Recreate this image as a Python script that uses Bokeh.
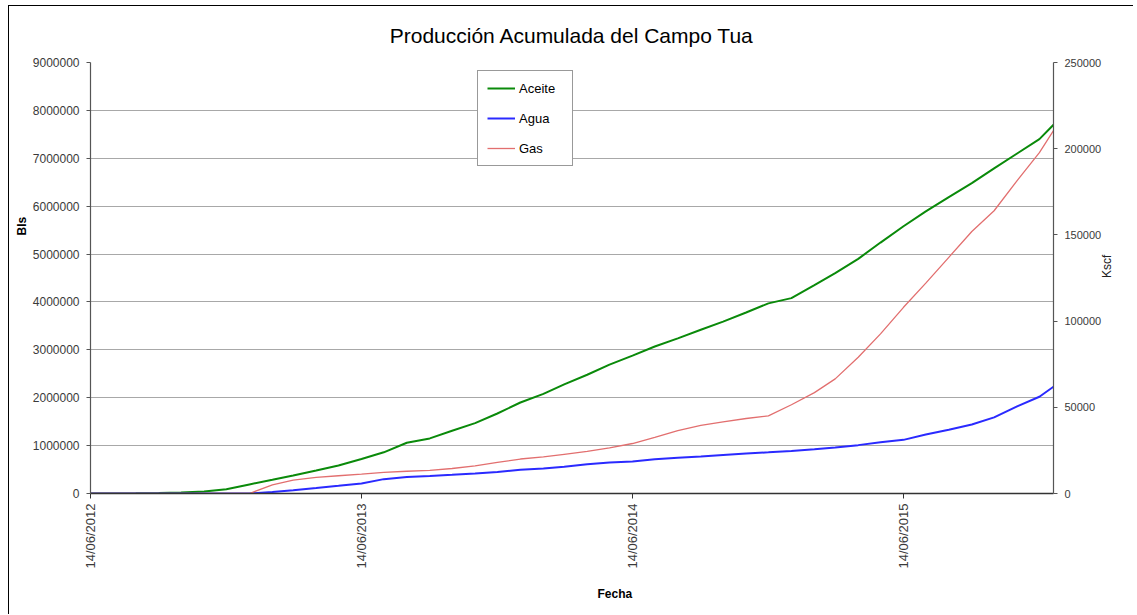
import math
from datetime import datetime
from bokeh.plotting import figure
from bokeh.models import (Range1d, LinearAxis, FixedTicker, DatetimeTickFormatter,
                          NumeralTickFormatter, Legend, LegendItem, Title)
from bokeh.embed import file_html
from bokeh.resources import INLINE

# ---- data ----
fechas = ["2012-06-14", "2012-07-14", "2012-08-14", "2012-09-14", "2012-10-14", "2012-11-14",
          "2012-12-14", "2013-01-14", "2013-02-14", "2013-03-14", "2013-04-14", "2013-05-14",
          "2013-06-14", "2013-07-14", "2013-08-14", "2013-09-14", "2013-10-14", "2013-11-14",
          "2013-12-14", "2014-01-14", "2014-02-14", "2014-03-14", "2014-04-14", "2014-05-14",
          "2014-06-14", "2014-07-14", "2014-08-14", "2014-09-14", "2014-10-14", "2014-11-14",
          "2014-12-14", "2015-01-14", "2015-02-14", "2015-03-14", "2015-04-14", "2015-05-14",
          "2015-06-14", "2015-07-14", "2015-08-14", "2015-09-14", "2015-10-14", "2015-11-14",
          "2015-12-14", "2016-01-02"]
aceite = [0, 0, 3000, 10000, 20000, 40000, 90000, 190000, 285000, 375000, 480000, 585000,
          720000, 860000, 1060000, 1150000, 1310000, 1470000, 1670000, 1900000, 2080000, 2280000,
          2480000, 2690000, 2880000, 3070000, 3240000, 3420000, 3590000, 3780000, 3970000,
          4080000, 4350000, 4600000, 4900000, 5240000, 5580000, 5890000, 6190000, 6480000,
          6790000, 7100000, 7400000, 7700000]
agua = [0, 0, 0, 0, 0, 0, 0, 0, 30000, 70000, 115000, 160000, 210000, 300000, 345000, 365000,
        390000, 420000, 450000, 495000, 520000, 560000, 610000, 645000, 670000, 715000, 745000,
        775000, 805000, 835000, 860000, 890000, 925000, 960000, 1010000, 1070000, 1120000,
        1230000, 1330000, 1440000, 1590000, 1820000, 2020000, 2230000]
gas = [0, 0, 0, 0, 0, 0, 0, 0, 5000, 7700, 9400, 10300, 11200, 12200, 12900, 13400, 14500,
       16000, 18000, 20000, 21200, 22700, 24400, 26500, 29000, 32500, 36500, 39500, 41500,
       43500, 45000, 51500, 58500, 66500, 79000, 92600, 108000, 122000, 137000, 152000,
       164000, 181500, 197700, 210500]
x_ticks = ["2012-06-14", "2013-06-14", "2014-06-14", "2015-06-14"]
y_left_ticks = [0, 1000000, 2000000, 3000000, 4000000, 5000000, 6000000, 7000000, 8000000, 9000000]
y_right_ticks = [0, 50000, 100000, 150000, 200000, 250000]

fechas_dt = [datetime.strptime(f, "%Y-%m-%d") for f in fechas]
tick_ms = [datetime.strptime(t, "%Y-%m-%d").timestamp() * 1000 for t in x_ticks]

FONT = "Liberation Sans"
TXT = "#3a3a3a"

p = figure(width=1125, height=609, x_axis_type="datetime", output_backend="svg",
           toolbar_location=None,
           x_range=Range1d(fechas_dt[0], fechas_dt[-1]),
           y_range=Range1d(0, 9000000),
           min_border_left=81, min_border_right=81, min_border_top=56, min_border_bottom=122,
           title="Producción Acumulada del Campo Tua",
           styles={"border-left": "1px solid #000", "border-top": "1px solid #000",
                   "margin-left": "8px", "margin-top": "5px"})
p.extra_y_ranges = {"gas": Range1d(0, 250000)}

p.title.align = "center"
p.title.vertical_align = "top"
p.title.text_font = FONT
p.title.text_font_size = "21px"
p.title.text_font_style = "normal"
p.title.text_color = "#000000"
p.title.standoff = 28

p.outline_line_color = None
p.background_fill_color = "white"
p.border_fill_color = "white"

# grids
p.xgrid.grid_line_color = None
p.ygrid.grid_line_color = "#a8a8a8"
p.ygrid.grid_line_width = 1.2
p.ygrid.ticker = FixedTicker(ticks=y_left_ticks)

# x axis
xa = p.xaxis[0]
xa.ticker = FixedTicker(ticks=tick_ms)
fmt = "%d/%m/%Y"
xa.formatter = DatetimeTickFormatter(milliseconds=fmt, seconds=fmt, minsec=fmt, minutes=fmt,
                                     hourmin=fmt, hours=fmt, days=fmt, months=fmt, years=fmt)
xa.major_label_orientation = math.pi / 2
xa.major_label_text_font = FONT
xa.major_label_text_font_size = "13px"
xa.major_label_text_color = TXT
xa.major_tick_out = 5
xa.major_tick_in = 0
xa.minor_tick_line_color = None
xa.axis_line_color = "#333333"
xa.axis_line_width = 1.3
xa.major_tick_line_color = "#333333"
xa.major_label_standoff = 5

# left axis
ya = p.yaxis[0]
ya.ticker = FixedTicker(ticks=y_left_ticks)
ya.formatter = NumeralTickFormatter(format="0")
ya.major_label_text_font = FONT
ya.major_label_text_font_size = "12px"
ya.major_label_text_color = TXT
ya.major_tick_out = 4
ya.major_tick_in = 0
ya.minor_tick_line_color = None
ya.axis_line_color = "#555555"
ya.axis_line_width = 1.2
ya.major_tick_line_color = "#555555"
ya.major_label_standoff = 7

# right axis
ra = LinearAxis(y_range_name="gas", ticker=FixedTicker(ticks=y_right_ticks),
                formatter=NumeralTickFormatter(format="0"))
ra.major_label_text_font = FONT
ra.major_label_text_font_size = "11px"
ra.major_label_text_color = TXT
ra.major_tick_out = 4
ra.major_tick_in = 0
ra.minor_tick_line_color = None
ra.axis_line_color = "#555555"
ra.axis_line_width = 1.2
ra.major_tick_line_color = "#555555"
ra.major_label_standoff = 7
ra.axis_label = "Kscf"
ra.axis_label_text_font = FONT
ra.axis_label_text_font_size = "12px"
ra.axis_label_text_font_style = "normal"
ra.axis_label_text_color = "#222222"
ra.axis_label_text_align = "center"
ra.axis_label_standoff = 3
try:
    ra.axis_label_orientation = math.pi / 2
except Exception:
    pass
p.add_layout(ra, "right")

# lines
r_ac = p.line(fechas_dt, aceite, line_color="#0a8a0a", line_width=2)
r_ag = p.line(fechas_dt, agua, line_color="#2a2aff", line_width=2)
r_gas = p.line(fechas_dt, gas, line_color="#e26f6f", line_width=1.3, y_range_name="gas")

legend = Legend(items=[LegendItem(label="Aceite", renderers=[r_ac]),
                       LegendItem(label="Agua", renderers=[r_ag]),
                       LegendItem(label="Gas", renderers=[r_gas])],
                location=(387, 327))
legend.label_text_font = FONT
legend.label_text_font_size = "13px"
legend.label_text_color = "#000000"
legend.glyph_width = 28
legend.glyph_height = 16
legend.label_height = 16
legend.label_width = 44
legend.spacing = 14
legend.padding = 9
legend.label_standoff = 4
legend.margin = 0
legend.border_line_color = "#333333"
legend.border_line_width = 1
legend.background_fill_color = "white"
legend.background_fill_alpha = 1
p.add_layout(legend, "center")

# axis titles
p.add_layout(Title(text="Bls", align="left", offset=258, text_font=FONT,
                   text_font_size="12px", text_font_style="bold", text_color="#000000",
                   standoff=2), "left")
p.add_layout(Title(text="Fecha", align="left", offset=507, text_font=FONT,
                   text_font_size="12px", text_font_style="bold", text_color="#000000",
                   standoff=26), "below")

open("out.html", "w").write(file_html(p, INLINE))
